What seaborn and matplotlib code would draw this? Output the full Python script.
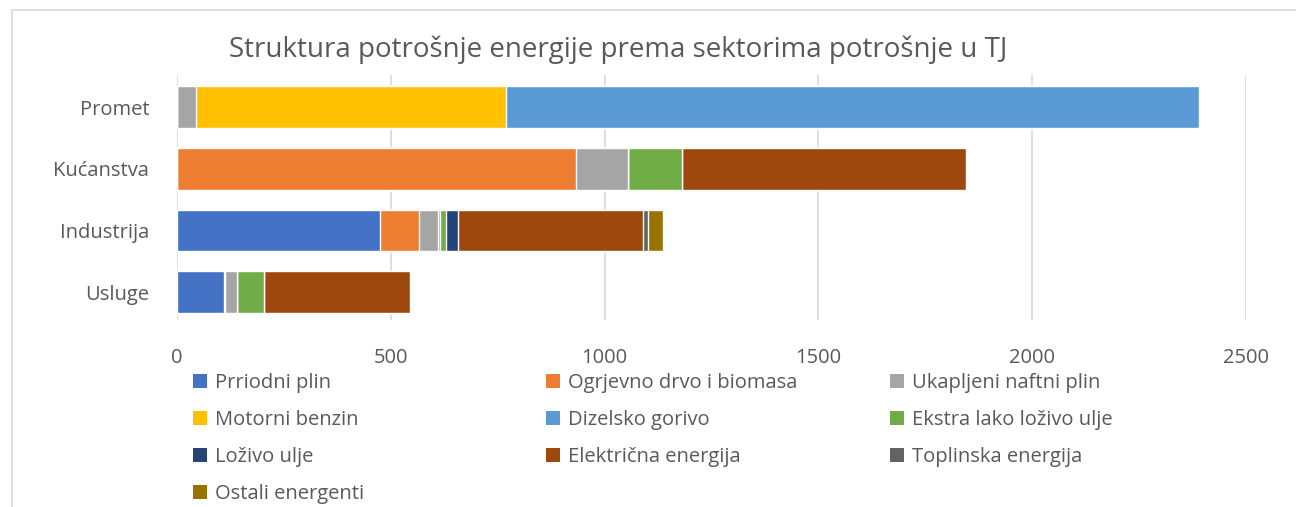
import numpy as np
import pandas as pd
import seaborn as sns
import matplotlib.pyplot as plt
from matplotlib.patches import Patch, Rectangle

# sectors, top to bottom
sectors = ['Promet', 'Kućanstva', 'Industrija', 'Usluge']

# energy sources (legend order)
sources = ['Prriodni plin', 'Ogrjevno drvo i biomasa', 'Ukapljeni naftni plin',
           'Motorni benzin', 'Dizelsko gorivo', 'Ekstra lako loživo ulje',
           'Loživo ulje', 'Električna energija', 'Toplinska energija',
           'Ostali energenti']

# values in TJ, one list per source, in sector order above
prirodni_plin = [0, 0, 475, 110]
ogrjevno_drvo = [0, 932, 91, 3]
ukapljeni_plin = [45, 123, 44, 28]
motorni_benzin = [724, 0, 0, 0]
dizelsko_gorivo = [1622, 0, 6, 0]
ekstra_lako_ulje = [0, 125, 13, 62]
lozivo_ulje = [0, 0, 29, 0]
elektricna = [0, 666, 432, 343]
toplinska = [0, 0, 12, 0]
ostali = [0, 0, 35, 0]

values = [prirodni_plin, ogrjevno_drvo, ukapljeni_plin, motorni_benzin,
          dizelsko_gorivo, ekstra_lako_ulje, lozivo_ulje, elektricna,
          toplinska, ostali]

colors = ['#4472C4', '#ED7D31', '#A5A5A5', '#FFC000', '#5B9BD5',
          '#70AD47', '#264478', '#9E480E', '#636363', '#997300']

text_color = '#595959'

sns.set_theme(style='white')
plt.rcParams['font.family'] = ['Open Sans', 'DejaVu Sans']

df = pd.DataFrame(np.array(values).T, columns=sources)
df['sektor'] = sectors
cum = df[sources].cumsum(axis=1)
cum['sektor'] = sectors

fig = plt.figure(figsize=(12.96, 5.07), dpi=100)
ax = fig.add_axes([177 / 1296, 1 - 320 / 507, 1069 / 1296, 245 / 507])

# stacked bars: draw cumulative totals from the last source back to the first
for src, col in zip(reversed(sources), reversed(colors)):
    sns.barplot(data=cum, x=src, y='sektor', order=sectors, color=col,
                width=0.68, saturation=1, ax=ax, zorder=3)

ax.set_xlim(0, 2500)
ax.set_ylim(3.45, -0.52)
ax.set_xticks([0, 500, 1000, 1500, 2000, 2500])
ax.xaxis.grid(True, color='#d9d9d9', linewidth=1.2, zorder=0)
ax.set_axisbelow(True)
for s in ax.spines.values():
    s.set_visible(False)
ax.set_xlabel('')
ax.set_ylabel('')
ax.tick_params(axis='both', length=0, labelsize=14.5, colors=text_color)
ax.tick_params(axis='x', pad=20)
ax.tick_params(axis='y', pad=20)

fig.text(618 / 1296, 1 - 50 / 507, 'Struktura potrošnje energije prema sektorima potrošnje u TJ',
         ha='center', va='center', fontsize=20, color=text_color)

# legend in three evenly spaced columns, row by row like Excel
col_x = [193, 546, 890]
for c in range(3):
    idx = list(range(c, len(sources), 3))
    handles = [Patch(facecolor=colors[i], edgecolor='none') for i in idx]
    labels = [sources[i] for i in idx]
    leg = fig.legend(handles, labels, loc='upper left',
                     bbox_to_anchor=(col_x[c] / 1296, 1 - 373 / 507),
                     frameon=False, fontsize=14.5, handlelength=0.7,
                     handleheight=0.7, handletextpad=0.4, labelspacing=0.84,
                     borderaxespad=0, borderpad=0)
    for t in leg.get_texts():
        t.set_color(text_color)

# chart frame
fig.patches.append(Rectangle((12 / 1296, -0.05), 1.1, 1 - 10 / 507 + 0.05,
                             transform=fig.transFigure, fill=False,
                             edgecolor='#d9d9d9', linewidth=1.2))

plt.savefig('out.png', dpi=100)
